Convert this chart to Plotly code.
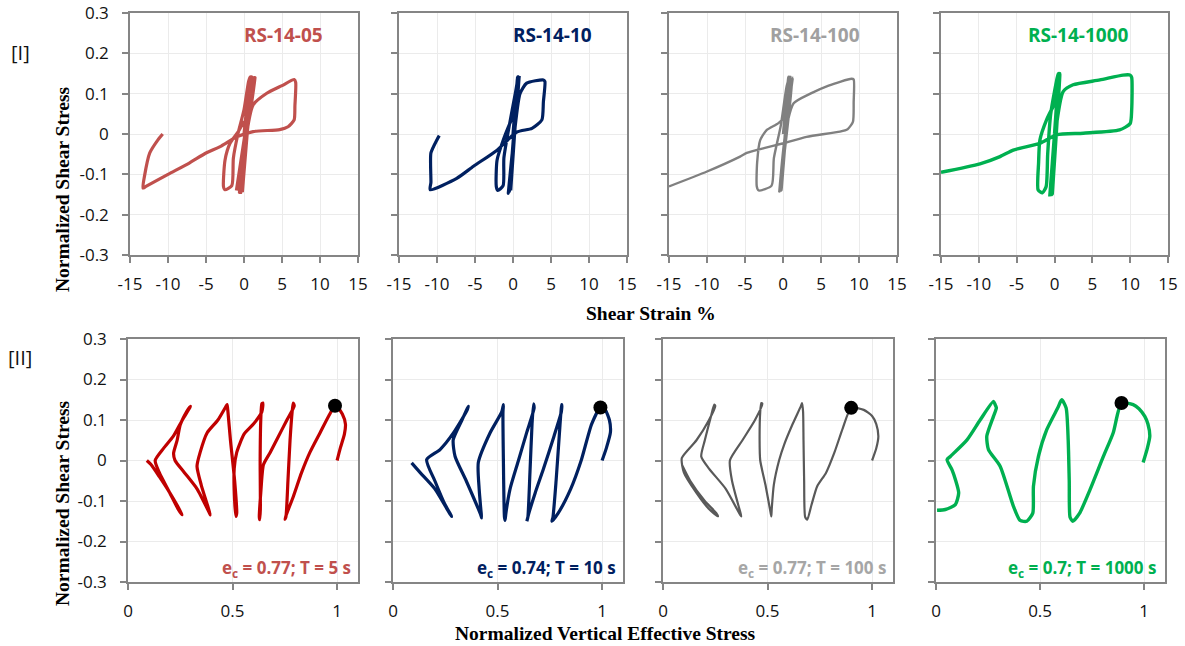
import plotly.graph_objects as go

W, H = 1185, 646

# ---------------- Row [I]: Normalized shear stress vs shear strain % ----------------
strain_05 = [0, 0.8, -0.2, 1.0, -0.6, 1.3, -1.0, 1.45, 0.6, -0.1, -0.75, -1.84, -2.5, -2.7, -2.5, -1.6, -1.4,
             -0.8, 0.0, 0.6, 0.8, 0.5, -0.3, 0.2, 1.2, 3.0, 5.0, 6.6, 6.8, 6.7, 6.6, 5.8, 4.7, 1.2, -0.96,
             -3.0, -5.0, -7.2, -10.0, -12.9, -13.3, -13.1, -12.4, -11.3, -10.7]
stress_05 = [0, 0.14, -0.14, 0.142, -0.145, 0.14, -0.14, 0.14, 0.04, 0.027, 0.006, -0.023, -0.065, -0.13, -0.138,
             -0.128, -0.06, 0.0, 0.06, 0.13, 0.142, 0.05, -0.145, -0.02, 0.072, 0.101, 0.12, 0.135, 0.128, 0.07,
             0.035, 0.018, 0.011, 0.006, -0.007, -0.03, -0.047, -0.072, -0.1, -0.13, -0.134, -0.105, -0.047,
             -0.014, 0.0]

strain_10 = [0, 0.6, -0.3, 0.7, -0.5, 0.8, 0.4, -0.4, -1.28, -2.1, -2.2, -2.0, -1.3, -1.2, -0.5, 0.3, 0.7, 0.2,
             -0.62, 0.0, 0.92, 1.8, 4.0, 4.2, 4.0, 3.8, 2.5, 0.5, -2.1, -5.2, -7.4, -10.9, -10.8, -10.8, -10.0, -9.7]
stress_10 = [0, 0.142, -0.14, 0.142, -0.145, 0.14, 0.06, 0.027, -0.015, -0.065, -0.13, -0.14, -0.128, -0.06,
             0.02, 0.1, 0.142, 0.0, -0.147, -0.03, 0.1, 0.126, 0.134, 0.13, 0.08, 0.035, 0.014, 0.005, -0.04,
             -0.08, -0.11, -0.138, -0.12, -0.047, -0.014, -0.004]

strain_100 = [0, 0.7, -0.2, 1.0, -0.4, 1.3, 0.5, -0.6, -2.13, -3.0, -3.4, -3.45, -3.2, -1.5, -1.2, -0.3, 0.5,
              0.9, 0.3, -0.5, 0.3, 1.4, 3.6, 6.0, 9.0, 9.3, 9.3, 9.2, 8.5, 7.5, 3.1, 0.06, -2.5, -4.77, -5.65,
              -10.0, -15.0]
stress_100 = [0, 0.142, -0.14, 0.142, -0.143, 0.14, 0.05, 0.027, 0.01, -0.015, -0.07, -0.13, -0.14, -0.128,
              -0.06, 0.02, 0.12, 0.142, 0.0, -0.145, 0.0, 0.076, 0.1, 0.12, 0.137, 0.135, 0.08, 0.03, 0.012,
              0.006, -0.007, -0.023, -0.035, -0.047, -0.056, -0.093, -0.13]

strain_1000 = [0, 0.6, -0.3, 0.7, 0.2, -0.18, -1.05, -1.93, -2.1, -2.16, -1.6, -1.1, -0.9, -0.5, 0.5, 0.0,
               -0.61, 0.1, 1.14, 2.46, 6.0, 9.06, 10.0, 10.2, 10.2, 10.0, 8.6, 3.8, 0.27, -1.93, -5.45, -7.2,
               -9.85, -15.0]
stress_1000 = [0, 0.15, -0.15, 0.15, 0.08, 0.068, 0.035, -0.015, -0.07, -0.139, -0.146, -0.13, -0.05, 0.05,
               0.15, 0.0, -0.151, 0.0, 0.105, 0.122, 0.134, 0.146, 0.146, 0.14, 0.06, 0.026, 0.01, 0.002,
               -0.002, -0.023, -0.04, -0.056, -0.074, -0.095]

# ---------------- Row [II]: Normalized shear stress vs normalized vertical effective stress ----------------
sv_05 = [1.0, 1.015, 1.035, 1.04, 1.025, 1.0, 0.99, 0.96, 0.92, 0.87, 0.83, 0.79, 0.76, 0.75, 0.755, 0.765,
         0.775, 0.785, 0.79, 0.795, 0.76, 0.72, 0.68, 0.648, 0.635, 0.628, 0.63, 0.633, 0.632, 0.635, 0.64,
         0.645, 0.64, 0.6, 0.555, 0.52, 0.508, 0.51, 0.516, 0.52, 0.51, 0.49, 0.478, 0.474, 0.47, 0.43, 0.378,
         0.345, 0.33, 0.35, 0.38, 0.394, 0.39, 0.33, 0.27, 0.225, 0.218, 0.235, 0.25, 0.28, 0.298, 0.295,
         0.26, 0.217, 0.17, 0.13, 0.15, 0.2, 0.24, 0.258, 0.25, 0.2, 0.15, 0.11, 0.09]
tau_05 = [0.0, 0.03, 0.065, 0.09, 0.115, 0.132, 0.135, 0.11, 0.07, 0.02, -0.03, -0.09, -0.13, -0.145, -0.14,
          -0.05, 0.05, 0.12, 0.142, 0.135, 0.1, 0.06, 0.02, -0.01, -0.08, -0.14, -0.146, -0.12, 0.0, 0.1, 0.14,
          0.142, 0.12, 0.09, 0.065, 0.02, -0.02, -0.1, -0.138, -0.13, -0.05, 0.05, 0.12, 0.138, 0.135, 0.1,
          0.068, 0.02, -0.014, -0.06, -0.11, -0.134, -0.13, -0.07, -0.03, 0.0, 0.018, 0.05, 0.088, 0.12, 0.134,
          0.13, 0.1, 0.06, 0.03, 0.0, -0.03, -0.08, -0.12, -0.134, -0.125, -0.08, -0.04, -0.01, 0.0]

sv_10 = [1.0, 1.02, 1.04, 1.035, 1.015, 0.992, 0.95, 0.9, 0.85, 0.79, 0.76, 0.765, 0.78, 0.795, 0.805, 0.808,
         0.805, 0.77, 0.72, 0.68, 0.65, 0.64, 0.645, 0.655, 0.665, 0.672, 0.675, 0.64, 0.6, 0.56, 0.54, 0.536,
         0.533, 0.528, 0.526, 0.528, 0.52, 0.464, 0.408, 0.412, 0.42, 0.424, 0.42, 0.35, 0.297, 0.288, 0.33,
         0.36, 0.355, 0.289, 0.225, 0.161, 0.2, 0.25, 0.281, 0.27, 0.2, 0.13, 0.089]
tau_10 = [0.0, 0.03, 0.07, 0.1, 0.125, 0.131, 0.09, 0.0, -0.07, -0.13, -0.15, -0.14, -0.05, 0.06, 0.13, 0.138,
          0.12, 0.06, -0.02, -0.08, -0.13, -0.15, -0.14, -0.03, 0.09, 0.14, 0.13, 0.07, 0.0, -0.07, -0.13,
          -0.148, -0.14, 0.0, 0.12, 0.138, 0.12, 0.068, -0.005, -0.07, -0.12, -0.142, -0.135, -0.05, 0.01,
          0.051, 0.1, 0.134, 0.125, 0.068, 0.027, 0.002, -0.05, -0.11, -0.138, -0.13, -0.07, -0.03, -0.006]

sv_100 = [1.0, 1.02, 1.03, 1.02, 1.0, 0.96, 0.9, 0.86, 0.82, 0.78, 0.737, 0.71, 0.69, 0.68, 0.675, 0.672, 0.67,
          0.665, 0.66, 0.62, 0.58, 0.555, 0.53, 0.52, 0.518, 0.515, 0.49, 0.465, 0.462, 0.465, 0.47, 0.475,
          0.44, 0.38, 0.32, 0.33, 0.36, 0.375, 0.37, 0.3, 0.22, 0.183, 0.2, 0.23, 0.245, 0.25, 0.22, 0.16,
          0.09, 0.1, 0.16, 0.22, 0.263, 0.255, 0.2, 0.13, 0.09]
tau_100 = [0.0, 0.03, 0.06, 0.09, 0.11, 0.125, 0.13, 0.08, 0.02, -0.03, -0.064, -0.11, -0.146, -0.14, -0.05,
           0.05, 0.12, 0.142, 0.135, 0.09, 0.04, 0.0, -0.06, -0.12, -0.138, -0.13, -0.06, 0.0, 0.05, 0.12,
           0.142, 0.14, 0.1, 0.05, 0.0, -0.05, -0.11, -0.138, -0.135, -0.07, -0.02, 0.01, 0.05, 0.11, 0.138,
           0.135, 0.1, 0.05, 0.006, -0.03, -0.08, -0.12, -0.138, -0.13, -0.1, -0.05, -0.01]

sv_1000 = [0.995, 1.015, 1.027, 1.018, 1.003, 0.975, 0.947, 0.891, 0.851, 0.804, 0.74, 0.69, 0.657, 0.644,
           0.64, 0.635, 0.625, 0.604, 0.585, 0.532, 0.492, 0.468, 0.465, 0.436, 0.404, 0.372, 0.308, 0.252,
           0.244, 0.276, 0.29, 0.284, 0.276, 0.212, 0.149, 0.069, 0.053, 0.077, 0.093, 0.109, 0.093, 0.045,
           0.005]
tau_1000 = [-0.005, 0.03, 0.06, 0.09, 0.109, 0.128, 0.138, 0.142, 0.068, 0.01, -0.072, -0.13, -0.15, -0.14,
            -0.05, 0.05, 0.13, 0.15, 0.13, 0.076, 0.01, -0.064, -0.13, -0.15, -0.148, -0.113, -0.014, 0.027,
            0.06, 0.109, 0.13, 0.138, 0.146, 0.1, 0.051, 0.01, 0.002, -0.023, -0.047, -0.08, -0.109, -0.121,
            -0.123]

# black marker points (start of the second stage)
dot_sv = [0.99, 0.992, 0.9, 0.891]
dot_tau = [0.135, 0.131, 0.13, 0.142]

# labels
top_titles = ["RS-14-05", "RS-14-10", "RS-14-100", "RS-14-1000"]
bottom_labels = ["e<sub>c</sub> = 0.77; T = 5 s", "e<sub>c</sub> = 0.74; T = 10 s",
                 "e<sub>c</sub> = 0.77; T = 100 s", "e<sub>c</sub> = 0.7; T = 1000 s"]
strain_ticks = [-15, -10, -5, 0, 5, 10, 15]
stress_ticks = [-0.3, -0.2, -0.1, 0, 0.1, 0.2, 0.3]
stress_ticktext = ["-0.3", "-0.2", "-0.1", "0", "0.1", "0.2", "0.3"]
strain_ticktext = ["-15", "-10", "-5", "0", "5", "10", "15"]
sv_ticks = [0, 0.5, 1]
sv_ticktext = ["0", "0.5", "1"]

top_line_colors = ["#C0504D", "#002060", "#808080", "#00B050"]
top_title_colors = ["#C0504D", "#002060", "#A0A0A0", "#00B050"]
top_widths = [3.2, 3.2, 2.4, 3.4]
bot_line_colors = ["#C00000", "#002060", "#595959", "#00B050"]
bot_label_colors = ["#C0504D", "#002060", "#A6A6A6", "#00B050"]
bot_widths = [3.2, 3.2, 2.2, 3.4]

top_x = [strain_05, strain_10, strain_100, strain_1000]
top_y = [stress_05, stress_10, stress_100, stress_1000]
bot_x = [sv_05, sv_10, sv_100, sv_1000]
bot_y = [tau_05, tau_10, tau_100, tau_1000]

# layout geometry (pixels)
top_px = [(130, 358), (399, 627), (669, 897), (941, 1168)]
bot_px = [(128, 358), (393, 623), (663, 893), (936, 1165)]
top_py = (13, 255)
bot_py = (339, 582)


def fx(p):
    return p / W


def fy(p):
    return 1 - p / H


fig = go.Figure()
AX = "#858585"
GRID = "#EBEBEB"
TICKFONT = dict(family="Open Sans", size=17, color="#111111")

layout = dict(width=W, height=H, margin=dict(l=0, r=0, t=0, b=0, autoexpand=False), showlegend=False,
              plot_bgcolor="white", paper_bgcolor="white")


def axis_common():
    return dict(ticks="outside", ticklen=6, tickcolor=AX, tickwidth=1.5, showline=True, mirror=True,
                linecolor=AX, linewidth=1.5, showgrid=True, gridcolor=GRID, gridwidth=1.2, zeroline=False,
                tickfont=TICKFONT, automargin=False)


for i in range(4):
    # top panel
    n = i + 1
    xa, ya = f"x{n}", f"y{n}"
    fig.add_trace(go.Scatter(x=top_x[i], y=top_y[i], mode="lines", xaxis=xa, yaxis=ya,
                             line=dict(color=top_line_colors[i], width=top_widths[i], shape="spline",
                                       smoothing=0.6), hoverinfo="skip"))
    layout[f"xaxis{n}"] = dict(domain=[fx(top_px[i][0]), fx(top_px[i][1])], range=[-15, 15],
                               tickvals=strain_ticks, ticktext=strain_ticktext, ticklabelstandoff=7,
                               anchor=ya, **axis_common())
    layout[f"yaxis{n}"] = dict(domain=[fy(top_py[1]), fy(top_py[0])], range=[-0.3, 0.3],
                               tickvals=stress_ticks, ticktext=stress_ticktext, showticklabels=(i == 0),
                               ticklabelstandoff=10, anchor=xa, **axis_common())
    # bottom panel
    m = i + 5
    xb, yb = f"x{m}", f"y{m}"
    fig.add_trace(go.Scatter(x=bot_x[i], y=bot_y[i], mode="lines", xaxis=xb, yaxis=yb,
                             line=dict(color=bot_line_colors[i], width=bot_widths[i], shape="spline",
                                       smoothing=0.6), hoverinfo="skip"))
    fig.add_trace(go.Scatter(x=[dot_sv[i]], y=[dot_tau[i]], mode="markers", xaxis=xb, yaxis=yb,
                             marker=dict(color="black", size=14), hoverinfo="skip"))
    layout[f"xaxis{m}"] = dict(domain=[fx(bot_px[i][0]), fx(bot_px[i][1])], range=[0, 1.1],
                               tickvals=sv_ticks, ticktext=sv_ticktext, ticklabelstandoff=7,
                               anchor=yb, **axis_common())
    layout[f"yaxis{m}"] = dict(domain=[fy(bot_py[1]), fy(bot_py[0])], range=[-0.3, 0.3],
                               tickvals=stress_ticks, ticktext=stress_ticktext, showticklabels=(i == 0),
                               ticklabelstandoff=10, anchor=xb, **axis_common())

annotations = []
title_cx = [283, 552, 815, 1078]
for i in range(4):
    annotations.append(dict(x=fx(title_cx[i]), y=fy(35), xref="paper", yref="paper", showarrow=False,
                            text=f"<b>{top_titles[i]}</b>", xanchor="center", yanchor="middle",
                            font=dict(family="Open Sans", size=19, color=top_title_colors[i])))
label_right = [353, 618, 888, 1158]
for i in range(4):
    annotations.append(dict(x=fx(label_right[i]), y=fy(568), xref="paper", yref="paper", showarrow=False,
                            text=f"<b>{bottom_labels[i]}</b>", xanchor="right", yanchor="middle",
                            font=dict(family="Open Sans", size=17, color=bot_label_colors[i])))

SERIF = dict(family="Liberation Serif", size=19.5, color="black")
annotations += [
    dict(x=fx(20), y=fy(52), xref="paper", yref="paper", showarrow=False, text="[I]",
         xanchor="center", yanchor="middle", font=dict(family="Open Sans", size=20, color="#111111")),
    dict(x=fx(20), y=fy(357), xref="paper", yref="paper", showarrow=False, text="[II]",
         xanchor="center", yanchor="middle", font=dict(family="Open Sans", size=20, color="#111111")),
    dict(x=fx(62), y=fy(189), xref="paper", yref="paper", showarrow=False, textangle=-90,
         xanchor="center", yanchor="middle", text="<b>Normalized Shear Stress</b>", font=SERIF),
    dict(x=fx(62), y=fy(503), xref="paper", yref="paper", showarrow=False, textangle=-90,
         xanchor="center", yanchor="middle", text="<b>Normalized Shear Stress</b>", font=SERIF),
    dict(x=fx(651), y=fy(313), xref="paper", yref="paper", showarrow=False,
         xanchor="center", yanchor="middle", text="<b>Shear Strain %</b>", font=SERIF),
    dict(x=fx(606), y=fy(633), xref="paper", yref="paper", showarrow=False,
         xanchor="center", yanchor="middle", text="<b>Normalized Vertical Effective Stress</b>", font=SERIF),
]
layout["annotations"] = annotations
fig.update_layout(**layout)
fig.write_html("out.html", config={"displayModeBar": False},
               post_script="document.body.style.margin='0';document.body.style.overflow='hidden';")
